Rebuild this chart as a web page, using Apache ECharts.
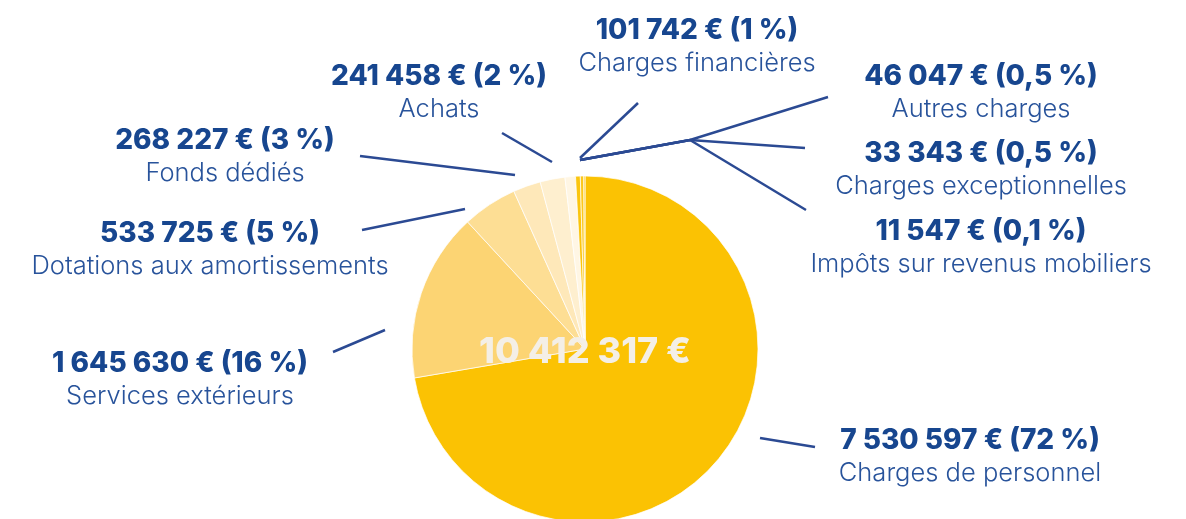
<!DOCTYPE html>
<html>
<head>
<meta charset="utf-8">
<script src="https://cdn.jsdelivr.net/npm/echarts@6/dist/echarts.min.js"></script>
<style>
  html, body { margin: 0; padding: 0; background: #fff; }
  #chart { width: 1186px; height: 519px; }
</style>
</head>
<body>
<div id="chart"></div>
<script>
// données : postes de charges
const categories = [
  'Charges de personnel', 'Services extérieurs', 'Dotations aux amortissements',
  'Fonds dédiés', 'Achats', 'Charges financières', 'Autres charges',
  'Charges exceptionnelles', 'Impôts sur revenus mobiliers'
];
const amounts = [7530597, 1645630, 533725, 268227, 241458, 101742, 46047, 33343, 11547];
const pctLabels = ['72 %', '16 %', '5 %', '3 %', '2 %', '1 %', '0,5 %', '0,5 %', '0,1 %'];
const totalAmount = 10412317;

// styles
const sliceColors = ['#FBC203', '#FCD473', '#FDDE94', '#FEE8B9', '#FEEFCF', '#FFF6E4', '#FBC50E', '#FCC81C', '#FBC408'];
const navy = '#17468F';
const lineColor = '#2B4A93';

// position des étiquettes (centre du bloc) et des traits de rappel
const labelPos = [
  [970, 457], [180, 380], [210, 250], [225, 157], [439, 93],
  [697, 47], [981, 93], [981, 170], [981, 248]
];
const leaderLines = [
  [[760, 438], [815, 447]],
  [[385, 330], [333, 352]],
  [[465, 209], [362, 230]],
  [[515, 175], [360, 156]],
  [[552, 162], [502, 133]],
  [[580, 158], [638, 103]],
  [[580, 160], [690, 140], [828, 97]],
  [[580, 160], [690, 140], [805, 148]],
  [[580, 160], [690, 140], [806, 210]]
];

function fmt(n) {
  return String(n).replace(/\B(?=(\d{3})+(?!\d))/g, ' ');
}

const chart = echarts.init(document.getElementById('chart'));

chart.setOption({
  animation: false,
  backgroundColor: '#fff',
  graphic: [{
    type: 'text',
    x: 585,
    y: 352,
    z: 100,
    style: {
      text: fmt(totalAmount) + ' €',
      align: 'center',
      verticalAlign: 'middle',
      fill: '#F4EFE6',
      fontFamily: 'Inter',
      fontWeight: 800,
      fontSize: 36
    }
  }],
  series: [{
    type: 'pie',
    center: [585, 349],
    radius: 173,
    startAngle: 90,
    clockwise: true,
    avoidLabelOverlap: false,
    silent: true,
    itemStyle: { borderColor: 'rgba(255,255,255,0.7)', borderWidth: 1 },
    label: {
      show: true,
      position: 'outside',
      formatter: p => `{v|${fmt(amounts[p.dataIndex])} € (${pctLabels[p.dataIndex]})}\n{n|${categories[p.dataIndex]}}`,
      rich: {
        v: { color: navy, fontFamily: 'Inter', fontWeight: 800, fontSize: 28, lineHeight: 33, align: 'center' },
        n: { color: '#28539B', fontFamily: 'Inter', fontWeight: 300, fontSize: 25.5, lineHeight: 33, align: 'center' }
      }
    },
    labelLine: {
      show: true,
      length: 10,
      length2: 10,
      lineStyle: { color: lineColor, width: 2.5 }
    },
    labelLayout: p => ({
      x: labelPos[p.dataIndex][0],
      y: labelPos[p.dataIndex][1],
      align: 'center',
      verticalAlign: 'middle',
      labelLinePoints: leaderLines[p.dataIndex]
    }),
    data: categories.map((c, i) => ({
      name: c,
      value: amounts[i],
      itemStyle: { color: sliceColors[i] }
    }))
  }]
});
</script>
</body>
</html>
